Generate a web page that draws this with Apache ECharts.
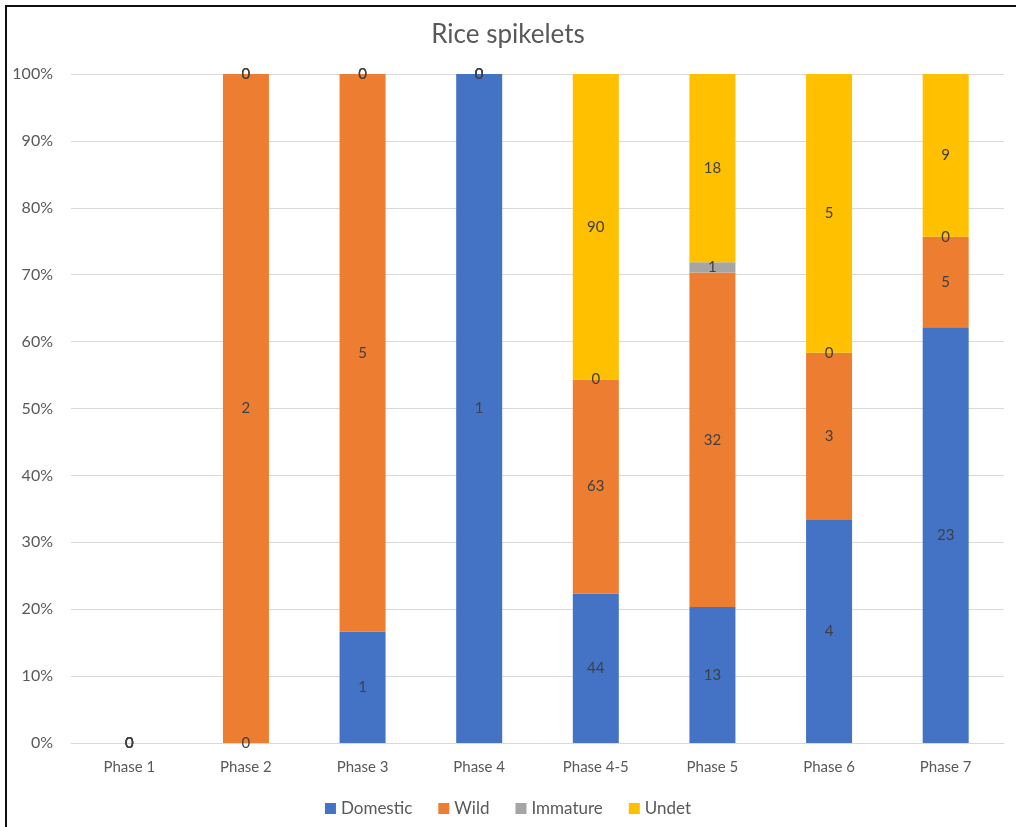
<!DOCTYPE html>
<html>
<head>
<meta charset="utf-8">
<script src="https://cdn.jsdelivr.net/npm/echarts@6/dist/echarts.min.js"></script>
<style>
  html, body { margin: 0; padding: 0; background: #fff; }
  #frame { position: absolute; left: 5px; top: 5px; width: 1011px; height: 822px;
           border-left: 2px solid #111; border-top: 2px solid #111; box-sizing: border-box; }
  #chart { position: absolute; left: 0; top: 0; width: 1016px; height: 827px; }
</style>
</head>
<body>
<div id="chart"></div>
<div id="frame"></div>
<script>
// Spikelet counts per phase
const categories = ['Phase 1', 'Phase 2', 'Phase 3', 'Phase 4', 'Phase 4-5', 'Phase 5', 'Phase 6', 'Phase 7'];
const domestic = [0, 0, 1, 1, 44, 13, 4, 23];
const wild     = [0, 2, 5, 0, 63, 32, 3, 5];
const immature = [0, 0, 0, 0, 0, 1, 0, 0];
const undet    = [0, 0, 0, 0, 90, 18, 5, 9];
const yTicks = [0, 10, 20, 30, 40, 50, 60, 70, 80, 90, 100];

const groups = [
  { name: 'Domestic', counts: domestic, color: '#4472C4' },
  { name: 'Wild',     counts: wild,     color: '#ED7D31' },
  { name: 'Immature', counts: immature, color: '#A5A5A5' },
  { name: 'Undet',    counts: undet,    color: '#FFC000' }
];

// totals per phase, used to express each count as a share of 100%
const totals = categories.map((_, i) => groups.reduce((s, g) => s + g.counts[i], 0));
const share = (v, i) => totals[i] ? v / totals[i] * 100 : 0;

const FONT = 'Lato, "Liberation Sans", sans-serif';
const chart = echarts.init(document.getElementById('chart'));

chart.setOption({
  animation: false,
  backgroundColor: '#fff',
  title: {
    text: 'Rice spikelets',
    left: 'center',
    top: 17,
    textStyle: { fontFamily: FONT, fontSize: 26, fontWeight: 'normal', color: '#595959' }
  },
  legend: {
    bottom: 5,
    left: 'center',
    icon: 'rect',
    itemWidth: 11,
    itemHeight: 11,
    itemGap: 26,
    textStyle: { fontFamily: FONT, fontSize: 17, color: '#595959' },
    data: groups.map(g => g.name)
  },
  grid: { left: 71, right: 12, top: 74, bottom: 84 },
  xAxis: {
    type: 'category',
    data: categories,
    axisTick: { show: false },
    axisLine: { lineStyle: { color: '#D9D9D9', width: 1 } },
    axisLabel: { fontFamily: FONT, fontSize: 15, color: '#595959', margin: 17 }
  },
  yAxis: {
    type: 'value',
    min: yTicks[0],
    max: yTicks[yTicks.length - 1],
    interval: yTicks[1] - yTicks[0],
    axisLine: { show: false },
    axisTick: { show: false },
    splitLine: { lineStyle: { color: '#D9D9D9', width: 1 } },
    axisLabel: { fontFamily: FONT, fontSize: 16, color: '#595959', margin: 18, formatter: '{value}%' }
  },
  series: groups.map(g => ({
    name: g.name,
    type: 'bar',
    stack: 'total',
    barWidth: 46,
    itemStyle: { color: g.color },
    data: g.counts.map((v, i) => share(v, i)),
    label: {
      show: true,
      position: 'inside',
      fontFamily: FONT,
      fontSize: 15,
      color: '#404040',
      formatter: p => String(g.counts[p.dataIndex])
    }
  }))
});
</script>
</body>
</html>
